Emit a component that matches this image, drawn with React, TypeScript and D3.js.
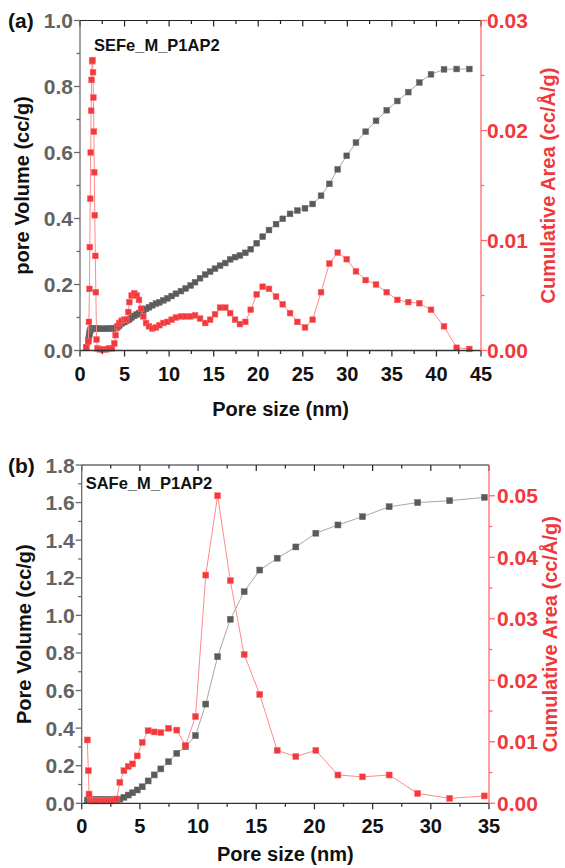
import React from "react";
import * as d3 from "d3";

// ---------- Panel (a) data ----------
const poreA = [0.7, 0.93, 1.0, 1.06, 1.1, 1.15, 1.2, 1.25, 1.3, 1.36, 1.4, 1.46, 1.5, 1.56, 1.6, 1.66, 1.72, 1.78, 1.86, 1.96, 2.24, 2.58, 2.92, 3.25, 3.59, 3.85, 4.0, 4.19, 4.41, 4.68, 4.97, 5.24, 5.42, 5.53, 5.8, 6.09, 6.36, 6.62, 6.85, 7.1, 7.41, 7.74, 8.11, 8.53, 8.9, 9.35, 9.8, 10.29, 10.77, 11.33, 11.86, 12.42, 12.91, 13.47, 14.05, 14.6, 15.15, 15.72, 16.3, 16.85, 17.4, 17.95, 18.55, 19.16, 19.83, 20.5, 21.21, 22.0, 22.75, 23.57, 24.39, 25.25, 26.11, 27.05, 27.98, 28.92, 29.93, 30.97, 32.06, 33.22, 34.42, 35.61, 36.84, 38.08, 39.39, 40.85, 42.27, 43.69];
const volA = [0.01, 0.03, 0.04, 0.05, 0.056, 0.06, 0.063, 0.065, 0.066, 0.066, 0.066, 0.066, 0.066, 0.066, 0.066, 0.066, 0.066, 0.066, 0.066, 0.066, 0.066, 0.066, 0.066, 0.067, 0.067, 0.067, 0.068, 0.07, 0.075, 0.082, 0.086, 0.09, 0.093, 0.095, 0.1, 0.105, 0.109, 0.113, 0.117, 0.121, 0.126, 0.131, 0.137, 0.142, 0.146, 0.152, 0.158, 0.165, 0.172, 0.18, 0.188, 0.197, 0.207, 0.219, 0.23, 0.239, 0.248, 0.257, 0.265, 0.276, 0.283, 0.288, 0.296, 0.307, 0.325, 0.345, 0.365, 0.383, 0.399, 0.414, 0.424, 0.431, 0.444, 0.469, 0.505, 0.549, 0.59, 0.63, 0.663, 0.696, 0.728, 0.756, 0.783, 0.812, 0.837, 0.852, 0.853, 0.853];
const areaA = [0.0003, 0.0008, 0.0026, 0.0056, 0.0094, 0.0138, 0.018, 0.0218, 0.0246, 0.0263, 0.0264, 0.0253, 0.023, 0.0199, 0.0162, 0.0123, 0.0086, 0.0053, 0.001, 0.0002, 0.0001, 0.0001, 0.0001, 0.0002, 0.0002, 0.00065, 0.0014, 0.0022, 0.0025, 0.0027, 0.0028, 0.0028, 0.0035, 0.0044, 0.005, 0.0052, 0.005, 0.0046, 0.0038, 0.0031, 0.0025, 0.0022, 0.002, 0.0021, 0.0023, 0.0025, 0.0026, 0.0028, 0.003, 0.0031, 0.0031, 0.0031, 0.0032, 0.0029, 0.0025, 0.0028, 0.0033, 0.0039, 0.0039, 0.0034, 0.0028, 0.0024, 0.0026, 0.0037, 0.0051, 0.0058, 0.0056, 0.0049, 0.0042, 0.0034, 0.0026, 0.0021, 0.0028, 0.0053, 0.0079, 0.0089, 0.0083, 0.0072, 0.0064, 0.006, 0.0053, 0.0046, 0.0044, 0.0043, 0.0037, 0.0022, 0.00025, 0.00014];

// ---------- Panel (b) data ----------
const poreB = [0.48, 0.57, 0.63, 0.75, 0.9, 1.05, 1.2, 1.4, 1.6, 1.8, 2.0, 2.25, 2.5, 2.75, 3.0, 3.28, 3.63, 4.0, 4.37, 4.77, 5.2, 5.71, 6.23, 6.8, 7.46, 8.17, 8.92, 9.78, 10.66, 11.68, 12.77, 13.96, 15.3, 16.8, 18.4, 20.12, 22.02, 24.13, 26.42, 28.87, 31.62, 34.6];
const volB = [0.017, 0.018, 0.018, 0.019, 0.019, 0.019, 0.019, 0.019, 0.019, 0.019, 0.019, 0.019, 0.019, 0.019, 0.019, 0.022, 0.032, 0.044, 0.056, 0.071, 0.088, 0.119, 0.151, 0.183, 0.221, 0.266, 0.301, 0.36, 0.528, 0.78, 0.979, 1.126, 1.241, 1.304, 1.364, 1.437, 1.481, 1.525, 1.578, 1.6, 1.61, 1.628];
const areaB = [0.0103, 0.0053, 0.0015, 0.0005, 0.0004, 0.0004, 0.0004, 0.0004, 0.0004, 0.0004, 0.0004, 0.0004, 0.0004, 0.0004, 0.0007, 0.0034, 0.0053, 0.006, 0.0064, 0.0077, 0.0099, 0.0118, 0.0116, 0.0115, 0.0122, 0.0119, 0.0094, 0.0141, 0.0371, 0.05, 0.0362, 0.0242, 0.0177, 0.0086, 0.0076, 0.0086, 0.0046, 0.0043, 0.0046, 0.0016, 0.0008, 0.0012];

// ---------- tick labels ----------
const xTicksA = [0, 5, 10, 15, 20, 25, 30, 35, 40, 45];
const xTicksB = [0, 5, 10, 15, 20, 25, 30, 35];
const volTicksA = [0, 0.2, 0.4, 0.6, 0.8, 1.0];
const volTicksB = [0, 0.2, 0.4, 0.6, 0.8, 1.0, 1.2, 1.4, 1.6, 1.8];
const areaTicksA = [0, 0.01, 0.02, 0.03];
const areaTicksB = [0, 0.01, 0.02, 0.03, 0.04, 0.05];

const FONT = "'Liberation Sans', Arial, Helvetica, sans-serif";
const GREY = "#5a5a5a";
const RED = "#f0393d";

type PanelProps = {
  box: { left: number; right: number; top: number; bottom: number };
  xMax: number;
  xTicks: number[];
  volMax: number;
  volTicks: number[];
  areaMax: number;
  areaTicks: number[];
  xs: number[];
  vol: number[];
  area: number[];
  tag: string;
  sample: string;
  sampleDx: number;
  sampleDy: number;
  volTitle: string;
  xTitleDy: number;
  rightLabelDx: number;
  rightTitleDx: number;
  ms: number;
  id: string;
};

function minorBetween(ticks: number[], maxV: number) {
  const out: number[] = [];
  const step = ticks.length > 1 ? ticks[1] - ticks[0] : 1;
  for (let i = 0; i < ticks.length; i++) {
    const m = ticks[i] + step / 2;
    if (m < maxV - 1e-9) out.push(m);
  }
  return out;
}

function Panel(p: PanelProps) {
  const { box } = p;
  const x = d3.scaleLinear().domain([0, p.xMax]).range([box.left, box.right]);
  const yL = d3.scaleLinear().domain([0, p.volMax]).range([box.bottom, box.top]);
  const yR = d3.scaleLinear().domain([0, p.areaMax]).range([box.bottom, box.top]);
  const volPts = p.xs.map((v, i) => [v, p.vol[i]] as [number, number]);
  const areaPts = p.xs.map((v, i) => [v, p.area[i]] as [number, number]);
  const lineL = d3.line<[number, number]>().x((d) => x(d[0])).y((d) => yL(d[1]));
  const lineR = d3.line<[number, number]>().x((d) => x(d[0])).y((d) => yR(d[1]));
  const xMinor = minorBetween(p.xTicks, p.xMax);
  const volMinor = minorBetween(p.volTicks, p.volMax);
  const areaMinor = minorBetween(p.areaTicks, p.areaMax);
  const fmtL = d3.format(".1f");
  const fmtR = d3.format(".2f");
  const ms = p.ms;
  const midY = (box.top + box.bottom) / 2;
  const midX = (box.left + box.right) / 2;
  return (
    <g>
      <defs>
        <clipPath id={"clip" + p.id}>
          <rect x={box.left} y={box.top} width={box.right - box.left} height={box.bottom - box.top} />
        </clipPath>
      </defs>
      {/* series */}
      <path d={lineL(volPts) || ""} fill="none" stroke="#a8a8a8" strokeWidth={1} clipPath={`url(#clip${p.id})`} />
      {volPts.map((d, i) => (
        <rect key={"v" + i} x={x(d[0]) - ms / 2} y={yL(d[1]) - ms / 2} width={ms} height={ms} fill={GREY} stroke="#6e6e6e" strokeWidth={0.5} />
      ))}
      <path d={lineR(areaPts) || ""} fill="none" stroke="#ff8a8a" strokeWidth={1} clipPath={`url(#clip${p.id})`} />
      {areaPts.map((d, i) => (
        <rect key={"a" + i} x={x(d[0]) - ms / 2} y={yR(d[1]) - ms / 2} width={ms} height={ms} fill={RED} stroke="#ff6a6a" strokeWidth={0.5} />
      ))}

      {/* top axis */}
      <line x1={box.left} x2={box.right} y1={box.top} y2={box.top} stroke="#222" strokeWidth={1.2} />
      {p.xTicks.map((t) => (
        <line key={"tt" + t} x1={x(t)} x2={x(t)} y1={box.top} y2={box.top + 6} stroke="#222" strokeWidth={1.2} />
      ))}
      {xMinor.map((t) => (
        <line key={"tm" + t} x1={x(t)} x2={x(t)} y1={box.top} y2={box.top + 3.5} stroke="#222" strokeWidth={1.2} />
      ))}

      {/* bottom axis */}
      <line x1={box.left} x2={box.right} y1={box.bottom} y2={box.bottom} stroke="#333" strokeWidth={1.3} />
      {p.xTicks.map((t) => (
        <g key={"bt" + t}>
          <line x1={x(t)} x2={x(t)} y1={box.bottom} y2={box.bottom + 6} stroke="#333" strokeWidth={1.3} />
          <text x={x(t)} y={box.bottom + 30} textAnchor="middle" fontFamily={FONT} fontWeight="bold" fontSize={20} fill="#111">
            {t}
          </text>
        </g>
      ))}
      {xMinor.map((t) => (
        <line key={"bm" + t} x1={x(t)} x2={x(t)} y1={box.bottom} y2={box.bottom + 3.5} stroke="#333" strokeWidth={1.3} />
      ))}
      <text x={midX} y={box.bottom + p.xTitleDy} textAnchor="middle" fontFamily={FONT} fontWeight="bold" fontSize={20} fill="#111">
        Pore size (nm)
      </text>

      {/* left axis */}
      <line x1={box.left} x2={box.left} y1={box.top} y2={box.bottom} stroke="#6a6a6a" strokeWidth={1.3} />
      {p.volTicks.map((t) => (
        <g key={"lt" + t}>
          <line x1={box.left - 6} x2={box.left} y1={yL(t)} y2={yL(t)} stroke="#6a6a6a" strokeWidth={1.3} />
          <text x={box.left - 7} y={yL(t) + 7.5} textAnchor="end" fontFamily={FONT} fontWeight="bold" fontSize={21} fill="#636363">
            {fmtL(t)}
          </text>
        </g>
      ))}
      {volMinor.map((t) => (
        <line key={"lm" + t} x1={box.left - 3.5} x2={box.left} y1={yL(t)} y2={yL(t)} stroke="#6a6a6a" strokeWidth={1.3} />
      ))}
      <text transform={`translate(${box.left - 51},${midY}) rotate(-90)`} textAnchor="middle" fontFamily={FONT} fontWeight="bold" fontSize={20} fill="#111">
        {p.volTitle}
      </text>

      {/* right axis */}
      <line x1={box.right} x2={box.right} y1={box.top} y2={box.bottom} stroke="#ff6b6b" strokeWidth={1.3} />
      {p.areaTicks.map((t) => (
        <g key={"rt" + t}>
          <line x1={box.right} x2={box.right + 6} y1={yR(t)} y2={yR(t)} stroke="#ff6b6b" strokeWidth={1.3} />
          <text x={box.right + p.rightLabelDx} y={yR(t) + 7.5} textAnchor="start" fontFamily={FONT} fontWeight="bold" fontSize={21} fill={RED}>
            {fmtR(t)}
          </text>
        </g>
      ))}
      {areaMinor.map((t) => (
        <line key={"rm" + t} x1={box.right} x2={box.right + 3.5} y1={yR(t)} y2={yR(t)} stroke="#ff6b6b" strokeWidth={1.3} />
      ))}
      <text transform={`translate(${box.right + p.rightTitleDx},${midY}) rotate(-90)`} textAnchor="middle" fontFamily={FONT} fontWeight="bold" fontSize={20} fill={RED}>
        Cumulative Area (cc/Å/g)
      </text>

      {/* tag and sample */}
      <text x={8} y={box.top + 7.5} fontFamily={FONT} fontWeight="bold" fontSize={21} fill="#111">
        {p.tag}
      </text>
      <text x={box.left + p.sampleDx} y={box.top + p.sampleDy} fontFamily={FONT} fontWeight="bold" fontSize={16.5} fill="#111">
        {p.sample}
      </text>
    </g>
  );
}

export default function App() {
  return (
    <svg width={565} height={868} style={{ position: "absolute", left: 0, top: 0, background: "#fff" }}>
      <rect x={0} y={0} width={565} height={868} fill="#fff" />
      <Panel
        id="a"
        box={{ left: 80, right: 481, top: 20.5, bottom: 350.5 }}
        xMax={45}
        xTicks={xTicksA}
        volMax={1.0}
        volTicks={volTicksA}
        areaMax={0.03}
        areaTicks={areaTicksA}
        xs={poreA}
        vol={volA}
        area={areaA}
        tag="(a)"
        sample="SEFe_M_P1AP2"
        sampleDx={14}
        sampleDy={30.5}
        volTitle="pore Volume (cc/g)"
        xTitleDy={65}
        rightLabelDx={6}
        rightTitleDx={74}
        ms={5.8}
      />
      <Panel
        id="b"
        box={{ left: 81.7, right: 489, top: 465, bottom: 803.3 }}
        xMax={35}
        xTicks={xTicksB}
        volMax={1.8}
        volTicks={volTicksB}
        areaMax={0.055}
        areaTicks={areaTicksB}
        xs={poreB}
        vol={volB}
        area={areaB}
        tag="(b)"
        sample="SAFe_M_P1AP2"
        sampleDx={4}
        sampleDy={23.5}
        volTitle="Pore Volume (cc/g)"
        xTitleDy={58}
        rightLabelDx={8}
        rightTitleDx={68}
        ms={6}
      />
    </svg>
  );
}
